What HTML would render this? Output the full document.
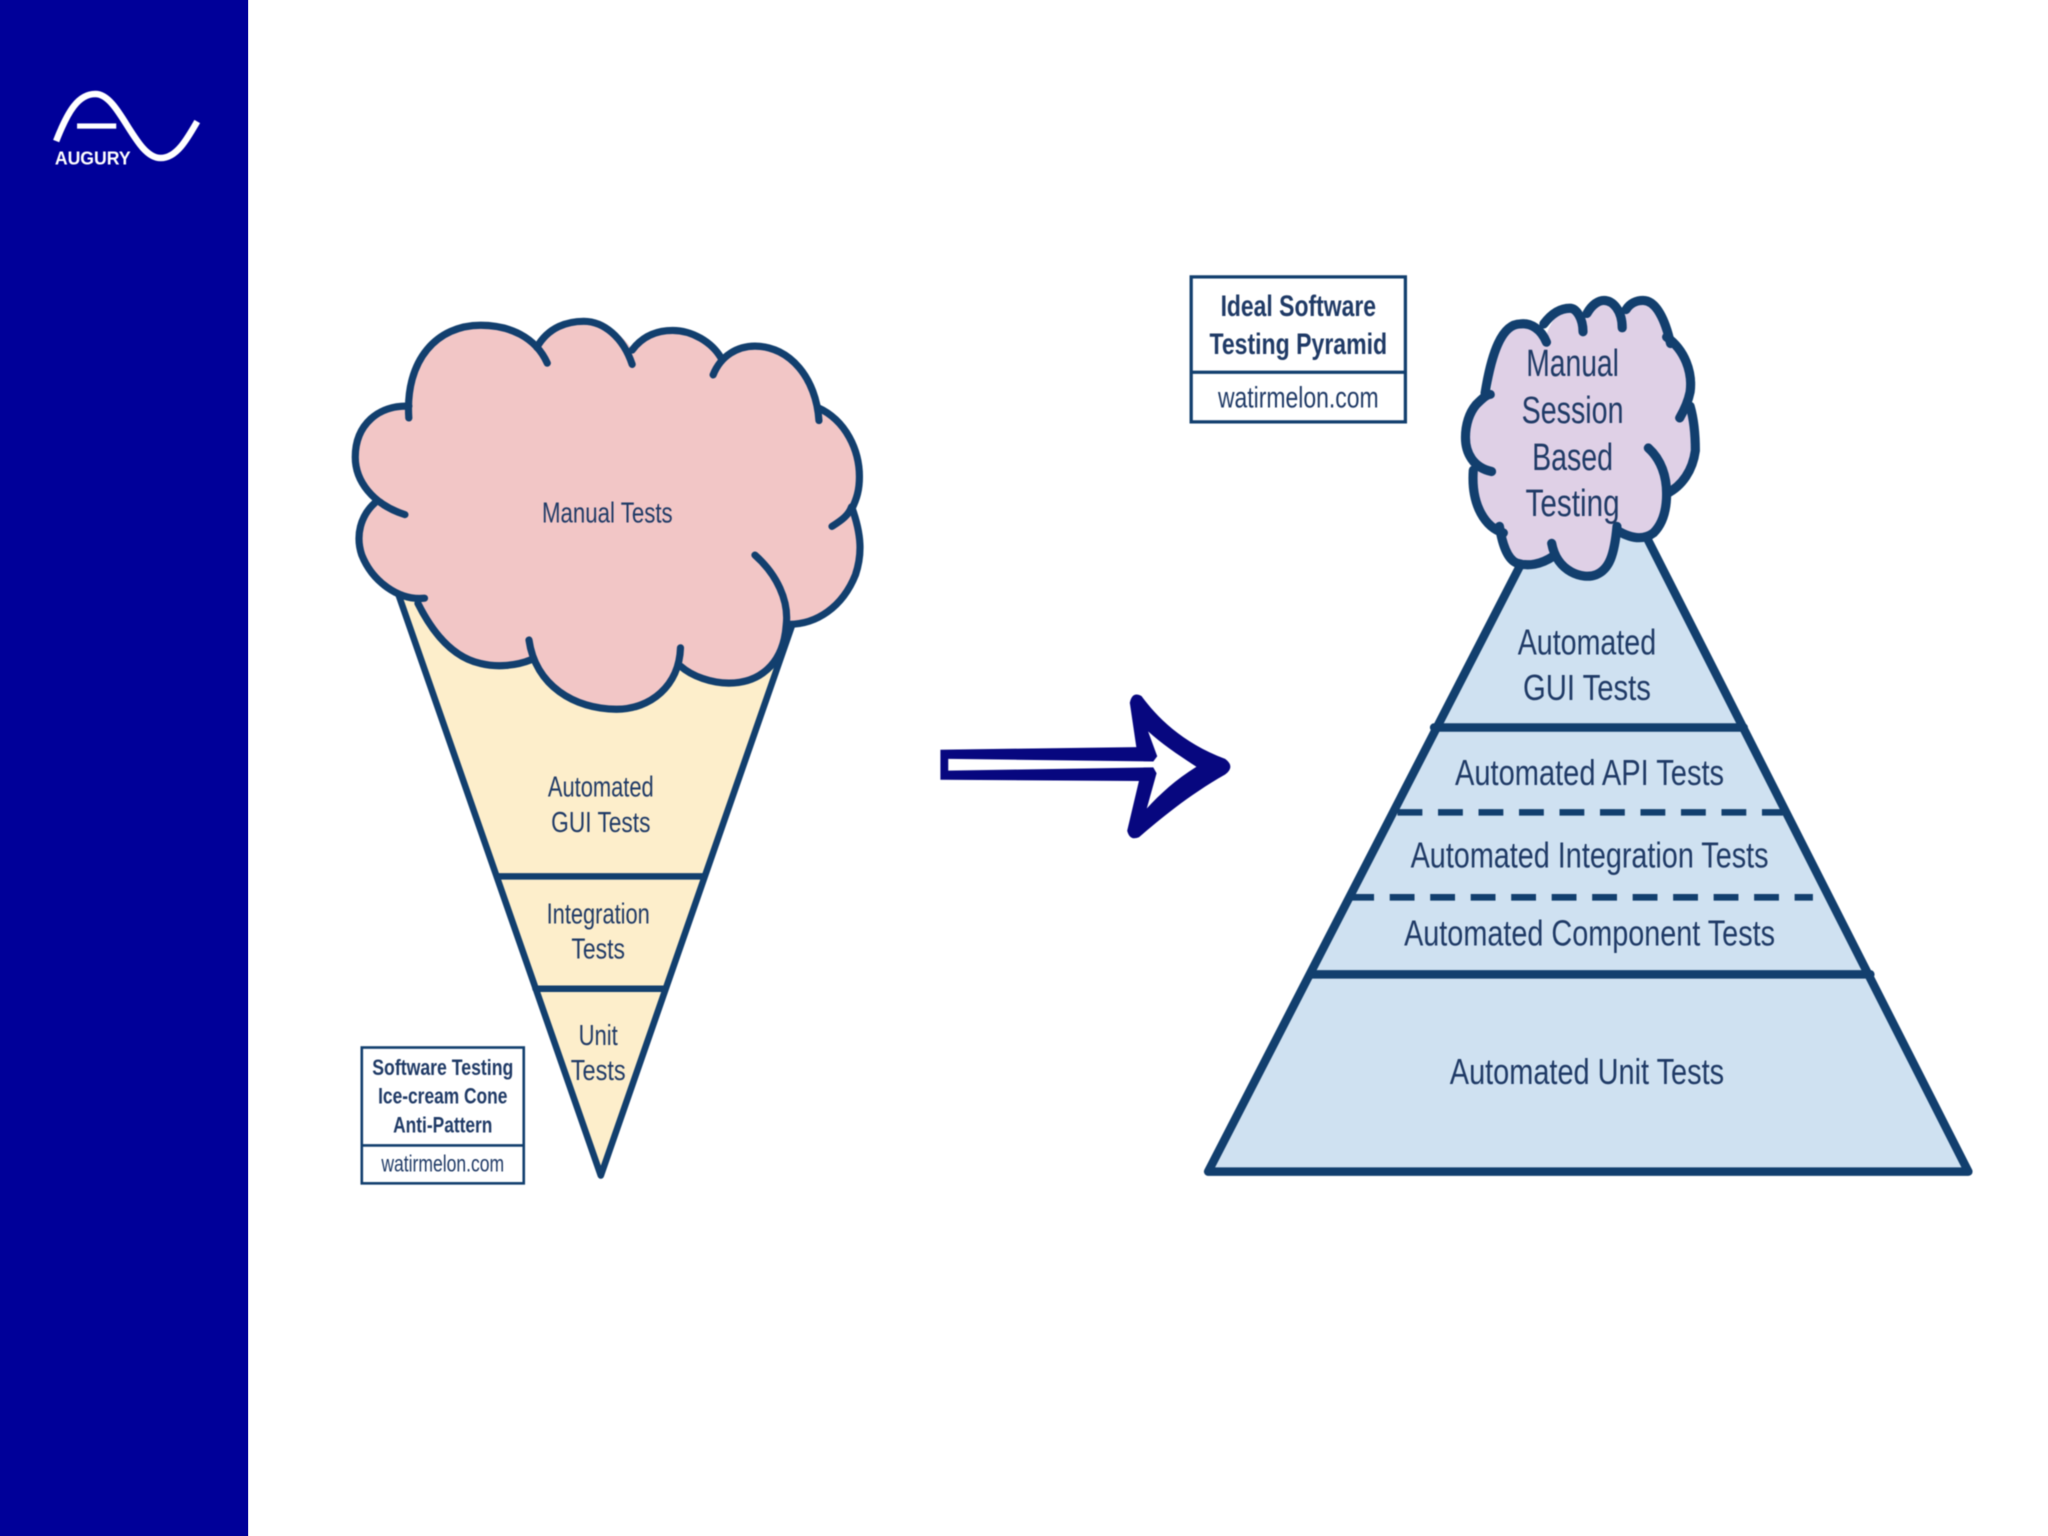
<!DOCTYPE html>
<html><head><meta charset="utf-8"><style>
html,body{margin:0;padding:0;background:#fff;width:2048px;height:1536px;overflow:hidden}
svg{display:block}
.b{filter:blur(0.45px)}
text{font-family:"Liberation Sans",sans-serif;fill:#1f3a66;text-anchor:middle}
.l{fill:none;stroke:#123f6e;stroke-linecap:round;stroke-linejoin:round}
</style></head><body>
<svg width="2048" height="1536" viewBox="0 0 1568 1176" xmlns="http://www.w3.org/2000/svg">
<rect width="1568" height="1176" fill="#fff"/>
<rect width="190" height="1176" fill="#000099"/>
<g class="b">
<!-- logo -->
<path d="M43 108 C52 85 60 72 73 72 C92 72 103 121 123 121 C135 121 143 107 151 93" fill="none" stroke="#fff" stroke-width="5"/>
<rect x="59" y="94.5" width="30" height="4" fill="#fff"/>
<text x="71" y="126" font-size="14" font-weight="bold" style="fill:#fff" textLength="58" lengthAdjust="spacingAndGlyphs">AUGURY</text>

<!-- cone -->
<path d="M305 455 L460 900 L606 480 Z" fill="#fdeecb"/>
<path class="l" stroke-width="5" d="M305 455 L460 900 L606 480"/>
<path class="l" stroke-width="5" d="M381 671 H539 M410 757 H509"/>

<!-- pink cloud -->
<path fill="#f2c6c6" d="M313 311 C312 275 335 249 368 249 C390 249 405 258 413 266 C420 250 435 246 447 246 C462 246 477 256 484 268 C493 256 505 253 515 253 C530 253 545 263 550 275 C558 268 568 265 578 265 C605 265 622 290 627 314 C648 322 658 345 658 365 C658 375 656 382 652 390 C660 410 660 425 655 440 C645 465 625 478 604 478 C600 510 580 523 558 523 C545 523 530 518 521 510 C515 530 498 543 472 543 C440 543 415 525 407 505 C395 510 380 511 368 508 C345 503 330 482 320 460 C305 460 285 445 277 425 C272 410 276 395 287 385 C278 375 272 362 272 350 C272 325 290 310 313 311 Z"/>
<g class="l" stroke-width="5.5">
<path d="M313 320 C310 275 335 249 368 249 C390 249 410 258 419 278"/>
<path d="M411 266 C420 250 435 246 447 246 C462 246 477 258 484 279"/>
<path d="M484 268 C493 256 505 253 515 253 C530 253 545 262 552 274"/>
<path d="M546 287 C552 272 565 265 578 265 C605 265 625 290 627 322"/>
<path d="M626 312 C648 322 658 345 658 365 C658 375 656 382 652 390"/>
<path d="M637 403 C645 398 650 394 652 388 C660 410 660 425 655 440 C645 465 625 478 604 478"/>
<path d="M578 425 C595 440 604 460 602 478 C600 510 580 523 558 523 C545 523 530 518 521 510"/>
<path d="M521 496 C520 525 498 543 472 543 C440 543 410 525 405 490"/>
<path d="M407 505 C395 510 380 511 368 508 C345 503 330 482 320 462"/>
<path d="M325 458 C305 460 285 445 277 425 C272 410 276 395 287 385"/>
<path d="M310 394 C285 386 272 368 272 350 C272 325 290 310 313 311"/>
</g>
<text x="465" y="400" font-size="22" textLength="100" lengthAdjust="spacingAndGlyphs">Manual Tests</text>
<text x="460" y="610" font-size="22" textLength="81" lengthAdjust="spacingAndGlyphs">Automated</text>
<text x="460" y="637" font-size="22" textLength="76" lengthAdjust="spacingAndGlyphs">GUI Tests</text>
<text x="458" y="707" font-size="22" textLength="79" lengthAdjust="spacingAndGlyphs">Integration</text>
<text x="458" y="734" font-size="22" textLength="41" lengthAdjust="spacingAndGlyphs">Tests</text>
<text x="458" y="800" font-size="22" textLength="30" lengthAdjust="spacingAndGlyphs">Unit</text>
<text x="458" y="827" font-size="22" textLength="42" lengthAdjust="spacingAndGlyphs">Tests</text>

<!-- cone legend -->
<rect x="277" y="802" width="124" height="104" fill="#fff" stroke="#123f6e" stroke-width="2"/>
<path d="M277 877 H401" stroke="#123f6e" stroke-width="2"/>
<text x="339" y="823" font-size="17" font-weight="bold" textLength="108" lengthAdjust="spacingAndGlyphs">Software Testing</text>
<text x="339" y="845" font-size="17" font-weight="bold" textLength="99" lengthAdjust="spacingAndGlyphs">Ice-cream Cone</text>
<text x="339" y="867" font-size="17" font-weight="bold" textLength="76" lengthAdjust="spacingAndGlyphs">Anti-Pattern</text>
<text x="339" y="897" font-size="18" textLength="94" lengthAdjust="spacingAndGlyphs">watirmelon.com</text>

<!-- arrow -->
<path fill="#07077f" d="M720 574 L870 572 L865 538 Q867 529 874 533 C885 548 905 569 938 581 Q946 587 938 593 C908 610 885 630 872 641 Q865 644 863 636 L872 598 L720 597 Z"/>
<path fill="#fff" d="M726 581 L883 583 L886 579 L879 560 C890 570 902 578 916 587 C900 597 888 608 878 619 L885.5 592 L883 587.5 L726 590 Z"/>

<!-- pyramid -->
<path d="M925 897 L1168 425 L1215 385 L1260 410 L1507 897 Z" fill="#cfe1f1"/>
<path class="l" stroke-width="6.5" d="M1168 425 L925 897 H1507 L1260 410"/>
<path class="l" stroke-width="6.5" d="M1098 557 H1335 M1004 746 H1432"/>
<path fill="none" stroke="#123f6e" stroke-width="5" stroke-dasharray="19 12" d="M1070 622 H1365 M1033 687 H1388"/>

<!-- lilac cloud -->
<path fill="#dfd0e6" d="M1141 302 C1145 270 1150 248 1164 248 C1170 247 1178 250 1184 256 C1188 245 1195 236 1202 236 C1207 236 1212 240 1215 244 C1219 234 1224 230 1228 230 C1235 230 1240 234 1245 240 C1248 232 1253 230 1258 230 C1268 230 1275 245 1278 258 C1290 268 1294 285 1294 300 L1294 311 C1298 325 1298 340 1298 345 C1296 360 1288 372 1276 378 C1276 390 1272 400 1266 408 C1258 414 1248 412 1238 406 C1236 425 1232 436 1222 440 C1212 444 1200 438 1189 426 C1180 432 1170 434 1161 431 C1154 428 1150 416 1150 408 C1138 404 1128 388 1128 360 C1124 355 1122 347 1122 335 C1122 325 1125 316 1130 310 C1134 306 1138 302 1141 302 Z"/>
<g class="l" stroke-width="7">
<path d="M1137 301 C1142 270 1150 248 1164 248 C1172 247 1180 252 1184 262"/>
<path d="M1182 248 C1188 240 1195 236 1202 236 C1207 236 1212 244 1212 254"/>
<path d="M1215 240 C1219 233 1224 230 1228 230 C1235 230 1242 238 1242 251"/>
<path d="M1245 237 C1248 232 1253 230 1258 230 C1268 230 1275 245 1279 263"/>
<path d="M1276 258 C1290 268 1296 285 1294 300 C1293 305 1290 313 1286 320"/>
<path d="M1294 311 C1298 325 1298 340 1298 345 C1296 360 1288 372 1276 378"/>
<path d="M1262 343 C1272 352 1276 365 1276 378 C1276 392 1272 402 1266 408 C1258 414 1248 412 1238 406"/>
<path d="M1238 403 C1236 425 1232 436 1222 440 C1212 444 1192 438 1188 416"/>
<path d="M1189 426 C1180 432 1170 434 1161 431 C1154 428 1150 416 1148 403"/>
<path d="M1151 408 C1138 404 1126 388 1128 360"/>
<path d="M1142 361 C1128 358 1122 347 1122 335 C1122 325 1125 316 1130 310 C1134 306 1138 302 1141 302"/>
</g>
<text x="1204" y="288" font-size="29" textLength="71" lengthAdjust="spacingAndGlyphs">Manual</text>
<text x="1204" y="324" font-size="29" textLength="78" lengthAdjust="spacingAndGlyphs">Session</text>
<text x="1204" y="360" font-size="29" textLength="62" lengthAdjust="spacingAndGlyphs">Based</text>
<text x="1204" y="395" font-size="29" textLength="72" lengthAdjust="spacingAndGlyphs">Testing</text>
<text x="1215" y="501" font-size="28" textLength="106" lengthAdjust="spacingAndGlyphs">Automated</text>
<text x="1215" y="536" font-size="28" textLength="98" lengthAdjust="spacingAndGlyphs">GUI Tests</text>
<text x="1217" y="601" font-size="28" textLength="206" lengthAdjust="spacingAndGlyphs">Automated API Tests</text>
<text x="1217" y="664" font-size="28" textLength="274" lengthAdjust="spacingAndGlyphs">Automated Integration Tests</text>
<text x="1217" y="724" font-size="28" textLength="284" lengthAdjust="spacingAndGlyphs">Automated Component Tests</text>
<text x="1215" y="830" font-size="28" textLength="210" lengthAdjust="spacingAndGlyphs">Automated Unit Tests</text>

<!-- pyramid legend -->
<rect x="912" y="212" width="164" height="111" fill="#fff" stroke="#123f6e" stroke-width="2.5"/>
<path d="M912 285 H1076" stroke="#123f6e" stroke-width="2.5"/>
<text x="994" y="242" font-size="23" font-weight="bold" textLength="119" lengthAdjust="spacingAndGlyphs">Ideal Software</text>
<text x="994" y="271" font-size="23" font-weight="bold" textLength="136" lengthAdjust="spacingAndGlyphs">Testing Pyramid</text>
<text x="994" y="312" font-size="23" textLength="123" lengthAdjust="spacingAndGlyphs">watirmelon.com</text>
</g>
</svg>
</body></html>
